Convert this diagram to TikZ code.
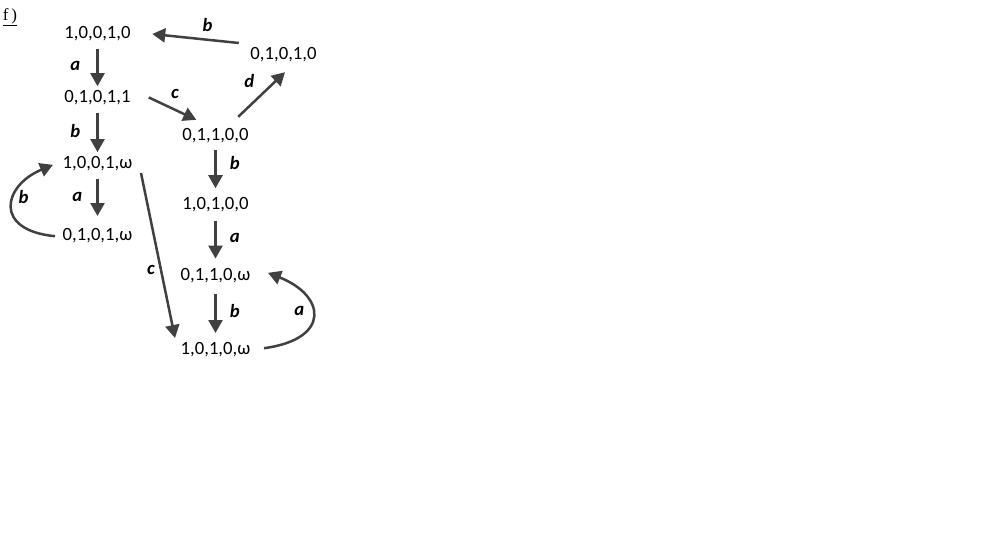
\documentclass[tikz,border=0pt]{standalone}
\usepackage{fontspec}
\setmainfont{Carlito}
\newfontfamily\tagfont{Liberation Serif}
\usetikzlibrary{arrows.meta,positioning,calc}
\definecolor{arrowgray}{HTML}{404040}

\begin{document}
\begin{tikzpicture}[
    x=1pt, y=-1pt,
    font=\fontsize{18.7pt}{22pt}\selectfont,
    vec/.style={inner sep=2pt, text height=12pt, text depth=3pt},
    lbl/.style={inner sep=0pt, font=\fontsize{18.7pt}{22pt}\selectfont\bfseries\itshape},
    arrow/.style={-{Triangle[length=13pt,width=14pt]}, line width=2.5pt, draw=arrowgray}
  ]
    \useasboundingbox (0,0) rectangle (994,538);
    \node[inner sep=0pt, font=\tagfont\fontsize{17pt}{19pt}\selectfont] (tag) at (10,17) {\underline{f\kern3pt)}};
    \node[vec] (n1) at (97.5,34) {1,0,0,1,0};
    \node[vec, below=45pt of n1] (n2) {0,1,0,1,1};
    \node[vec, below=46pt of n2] (n3) {1,0,0,1,ω};
    \node[vec, below=53pt of n3] (n4) {0,1,0,1,ω};
    \node[vec] (n5) at (283.5,55) {0,1,0,1,0};
    \node[vec] (n6) at (215.5,136) {0,1,1,0,0};
    \node[vec, below=50pt of n6] (n7) {1,0,1,0,0};
    \node[vec, below=51pt of n7] (n8) {0,1,1,0,ω};
    \node[vec, below=55pt of n8] (n9) {1,0,1,0,ω};
    \draw[arrow, shorten <=5pt, shorten >=2.5pt] (n1) -- node[lbl, left=16pt] {a} (n2);
    \draw[arrow, shorten <=4.5pt, shorten >=2pt] (n2) -- node[lbl, left=16pt] {b} (n3);
    \draw[arrow, shorten <=5.5pt, shorten >=10.5pt] (n3) -- node[lbl, pos=.45, left=14pt] {a} (n4);
    \draw[arrow, shorten <=4.5pt, shorten >=7.5pt] (n6) -- node[lbl, pos=.35, right=13pt] {b} (n7);
    \draw[arrow, shorten <=5.5pt, shorten >=7.5pt] (n7) -- node[lbl, pos=.45, right=13pt] {a} (n8);
    \draw[arrow, shorten <=8.5pt, shorten >=7.5pt] (n8) -- node[lbl, pos=.47, right=13pt] {b} (n9);
    \draw[arrow] ($(n2.east)+(16,-1)$) -- node[lbl, pos=.55, above=10pt] {c} ($(n6.north west)+(16,-6.5)$);
    \draw[arrow] ($(n6.north east)+(-12.5,-9.5)$) -- node[lbl, above left=6pt and 6pt] {d} ($(n5.south)+(1.5,7.5)$);
    \draw[arrow] ($(n5.west)+(-9.5,-12)$) -- node[lbl, pos=.36, above=7pt] {b} ($(n1.east)+(19.5,0)$);
    \draw[arrow] ($(n3.south east)+(6.5,-0.5)$) -- node[lbl, pos=.59, left=5pt] {c} ($(n9.north west)+(-3.5,-2.5)$);
    \draw[arrow] ($(n4.west)+(-5.5,0)$) .. controls +(-62,-6) and +(-50,21) .. node[lbl, pos=.6, right=3pt] {b} ($(n3.west)+(-7.5,1)$);
    \draw[arrow] ($(n9.east)+(11.5,-2)$) .. controls +(67,-9) and +(58,23) .. node[lbl, pos=.55, left=7pt] {a} ($(n8.east)+(15.5,-3)$);
  \end{tikzpicture}
\end{document}
